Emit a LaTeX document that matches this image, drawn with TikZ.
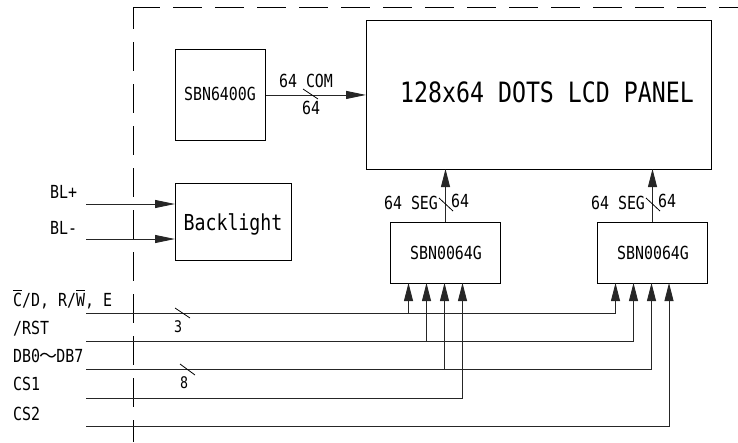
\documentclass[tikz,border=0pt]{standalone}
\usepackage{fontspec}
\usetikzlibrary{arrows.meta}
\newfontfamily\lblfont[FakeStretch=0.83]{DejaVu Sans Mono}
\newfontfamily\cjkfont{Noto Sans CJK SC}
\newcommand{\ovl}[1]{\leavevmode\rlap{\rule[0.84em]{0.5em}{0.09em}}#1}
\tikzset{
  lbl/.style={inner sep=0pt,font=\lblfont\fontsize{#1}{#1}\selectfont,text height=0.73*#1 pt,text depth=0pt},
  lbl/.default=18,
  blockbox/.style={draw,line width=0.9pt,inner sep=0pt,anchor=north west},
  wire/.style={line width=0.9pt,draw=black!85},
  pin/.style={wire,-{Triangle[length=18pt,width=9pt]}},
  tick/.style={line width=0.8pt},
  frame/.style={line width=0.9pt,dash pattern=on 29pt off 13pt}
}
\begin{document}
\begin{tikzpicture}[x=1pt,y=-1pt]
\useasboundingbox (0,0) rectangle (738,442);
% dashed frame
\draw[frame,dash phase=7pt] (133,7) -- (133,442);
\draw[frame,dash phase=2pt] (133,7) -- (738,7);
% blocks
\node[blockbox,minimum width=345pt,minimum height=149pt] (lcd) at (366,20) {};
\node[lbl=28] at (547,92) {128x64 DOTS LCD PANEL};
\node[blockbox,minimum width=90pt,minimum height=91pt] (com) at (175,49) {};
\node[lbl] at (220,94) {SBN6400G};
\node[blockbox,minimum width=116pt,minimum height=77pt] (back) at (175,183) {};
\node[lbl=22] at (233,222) {Backlight};
\node[blockbox,minimum width=110pt,minimum height=61pt] (segA) at (390,222) {};
\node[lbl] at (446,253) {SBN0064G};
\node[blockbox,minimum width=110pt,minimum height=61pt] (segB) at (597,222) {};
\node[lbl] at (653,253) {SBN0064G};
% COM link
\draw[wire,-{Triangle[length=20pt,width=8pt]}] (com.east) -- (lcd.west |- com.east);
\coordinate (t1a) at (303,89); \coordinate (t1b) at (318,99);
\draw[tick] (t1a) -- (t1b);
\node[lbl] at (306,81) {64 COM};
\node[lbl] at (311,108) {64};
% SEG links
\coordinate (segAup) at (445.5,222); \coordinate (segBup) at (652.5,222);
\coordinate (lcdA) at (445.5,169); \coordinate (lcdB) at (652.5,169);
\draw[pin] (segAup) -- (lcdA);
\draw[pin] (segBup) -- (lcdB);
\coordinate (t2a) at (439,198); \coordinate (t2b) at (453,211);
\coordinate (t3a) at (646,198); \coordinate (t3b) at (660,211);
\draw[tick] (t2a) -- (t2b);
\draw[tick] (t3a) -- (t3b);
\node[lbl] at (411,203) {64 SEG};
\node[lbl] at (460,201) {64};
\node[lbl] at (618,203) {64 SEG};
\node[lbl] at (667,201) {64};
% backlight inputs
\node[lbl,anchor=west] at (50,192) {BL+};
\node[lbl,anchor=west] at (50,228) {BL-};
\coordinate (blp) at (86,204); \coordinate (blm) at (86,239);
\draw[wire,-{Triangle[length=20pt,width=8pt]}] (blp) -- (back.west |- blp);
\draw[wire,-{Triangle[length=20pt,width=8pt]}] (blm) -- (back.west |- blm);
% bus labels
\node[lbl,anchor=west] at (13,300) {\ovl{C}/D, R/\ovl{W}, E};
\node[lbl,anchor=west] at (13,328) {/RST};
\node[lbl,anchor=west] at (13,356) {DB0{\cjkfont\hspace{-0.05em}～\hspace{-0.05em}}DB7};
\node[lbl,anchor=west] at (13,384) {CS1};
\node[lbl,anchor=west] at (13,414) {CS2};
% bus starts and pins
\coordinate (w1) at (86,313); \coordinate (w2) at (86,341); \coordinate (w3) at (86,369);
\coordinate (w4) at (86,398); \coordinate (w5) at (86,426);
\coordinate (a1) at (408.5,283); \coordinate (a2) at (426.5,283);
\coordinate (a3) at (444.5,283); \coordinate (a4) at (462.5,283);
\coordinate (b1) at (615.5,283); \coordinate (b2) at (633.5,283);
\coordinate (b3) at (651.5,283); \coordinate (b5) at (669,283);
% bus wires
\draw[pin] (w1) -| (b1);
\draw[pin] (w2) -| (b2);
\draw[pin] (w3) -| (b3);
\draw[pin] (w4) -| (a4);
\draw[pin] (w5) -| (b5);
\draw[pin] (a1 |- w1) -- (a1);
\draw[pin] (a2 |- w2) -- (a2);
\draw[pin] (a3 |- w3) -- (a3);
% bus ticks
\coordinate (t4a) at (175,308); \coordinate (t4b) at (190,318);
\coordinate (t5a) at (180,364); \coordinate (t5b) at (195,375);
\draw[tick] (t4a) -- (t4b);
\draw[tick] (t5a) -- (t5b);
\node[lbl=16] at (178,327) {3};
\node[lbl=16] at (184,383) {8};
\end{tikzpicture}
\end{document}
